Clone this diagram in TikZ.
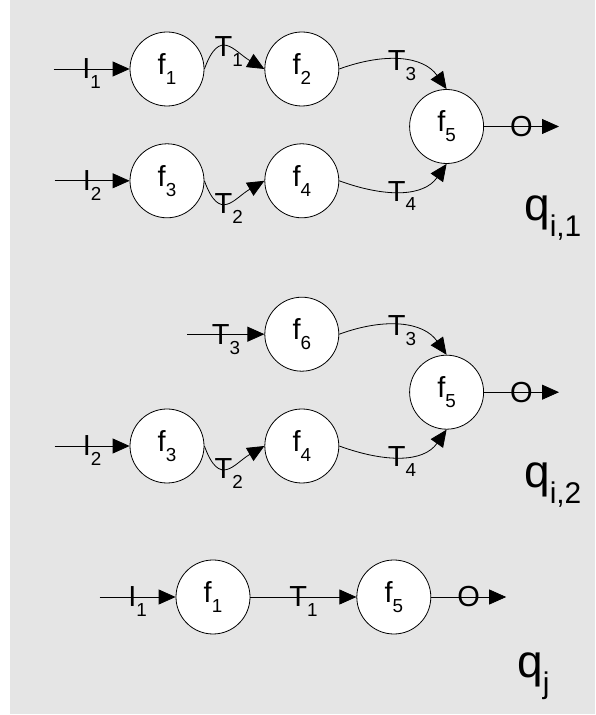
\documentclass[tikz,border=0pt]{standalone}
\usepackage{fontspec}
\setmainfont{Liberation Sans}
\usepackage{graphicx}
\usepackage{tikz}
\usetikzlibrary{positioning,arrows.meta}
\definecolor{panel}{HTML}{E5E5E5}
\newcommand{\lowsub}[1]{\raisebox{-0.34em}{\scalebox{0.65}{#1}}}

\begin{document}
\begin{tikzpicture}[x=1pt, y=1pt,
  every node/.style={font=\fontsize{29}{32}\selectfont},
  fn/.style={circle, draw, line width=0.8pt, fill=white, minimum size=74pt, inner sep=0pt},
  flow/.style={line width=0.8pt, -{Triangle[length=17pt,width=15pt]}},
  lab/.style={anchor=base, yshift=-10pt, inner sep=0pt},
  qlab/.style={font=\fontsize{46}{50}\selectfont, anchor=base west, inner sep=0pt}
]
  \useasboundingbox (0,0) rectangle (595,715);
  \fill[panel] (10,1) rectangle (595,715);

  \node[fn] (a1) at (167,646) {f\lowsub{1}};
  \node[fn, right=60pt of a1] (a2) {f\lowsub{2}};
  \node[fn, below=37pt of a1] (a3) {f\lowsub{3}};
  \node[fn, below=37pt of a2] (a4) {f\lowsub{4}};
  \node[fn, right=70pt of a2, yshift=-57.5pt] (a5) {f\lowsub{5}};
  \coordinate[left=76pt of a1.west] (ain1);
  \coordinate[left=75pt of a3.west] (ain2);
  \coordinate[right=75pt of a5.east] (aout);
  \node[qlab] (qa) at (524,494) {q\lowsub{i,1}};

  \draw[flow] (ain1) -- node[lab]{I\lowsub{1}} (a1.west);
  \draw[flow] (ain2) -- node[lab]{I\lowsub{2}} (a3.west);
  \draw[flow] (a1.east) .. controls +(70:45) and +(150:35) .. node[lab]{T\lowsub{1}} (a2.west);
  \draw[flow] (a3.east) .. controls +(-70:45) and +(-150:35) .. node[lab]{T\lowsub{2}} (a4.west);
  \draw[flow] (a2.east) .. controls +(20:50) and +(125:40) .. node[lab]{T\lowsub{3}} (a5.north);
  \draw[flow] (a4.east) .. controls +(-20:50) and +(-125:40) .. node[lab]{T\lowsub{4}} (a5.south);
  \draw[flow] (a5.east) -- node[lab]{O} (aout);

  \node[fn] (b3) at (167,269) {f\lowsub{3}};
  \node[fn, right=60pt of b3] (b4) {f\lowsub{4}};
  \node[fn, above=37pt of b4] (b6) {f\lowsub{6}};
  \node[fn, right=70pt of b6, yshift=-58pt] (b5) {f\lowsub{5}};
  \coordinate[left=77pt of b6.west] (bin1);
  \coordinate[left=75pt of b3.west] (bin2);
  \coordinate[right=75pt of b5.east] (bout);
  \node[qlab] (qb) at (524,227) {q\lowsub{i,2}};

  \draw[flow] (bin1) -- node[lab]{T\lowsub{3}} (b6.west);
  \draw[flow] (bin2) -- node[lab]{I\lowsub{2}} (b3.west);
  \draw[flow] (b3.east) .. controls +(-70:45) and +(-150:35) .. node[lab]{T\lowsub{2}} (b4.west);
  \draw[flow] (b6.east) .. controls +(20:50) and +(125:40) .. node[lab]{T\lowsub{3}} (b5.north);
  \draw[flow] (b4.east) .. controls +(-20:50) and +(-125:40) .. node[lab]{T\lowsub{4}} (b5.south);
  \draw[flow] (b5.east) -- node[lab]{O} (bout);

  \node[fn] (c1) at (213,118) {f\lowsub{1}};
  \node[fn, right=106pt of c1] (c5) {f\lowsub{5}};
  \coordinate[left=76pt of c1.west] (cin);
  \coordinate[right=75pt of c5.east] (cout);
  \node[qlab] (qc) at (517,37) {q\lowsub{j}};

  \draw[flow] (cin) -- node[lab]{I\lowsub{1}} (c1.west);
  \draw[flow] (c1.east) -- node[lab]{T\lowsub{1}} (c5.west);
  \draw[flow] (c5.east) -- node[lab]{O} (cout);
\end{tikzpicture}
\end{document}
